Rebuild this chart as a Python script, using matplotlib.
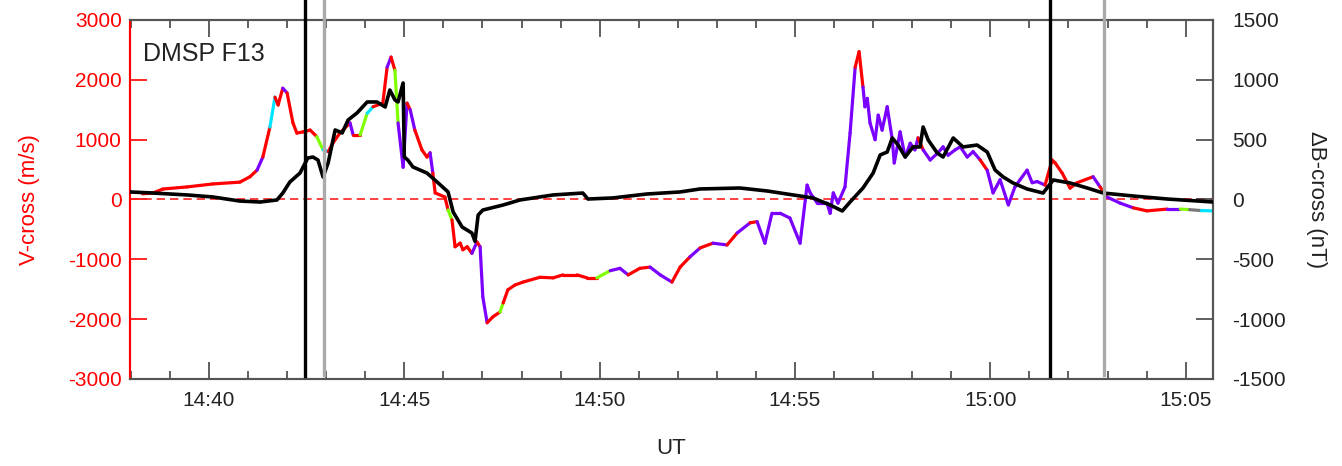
import numpy as np
import matplotlib.pyplot as plt
from matplotlib.ticker import MultipleLocator, FuncFormatter

plt.rcParams['font.family'] = ['Liberation Sans', 'DejaVu Sans']
plt.rcParams['axes.unicode_minus'] = False

# time in minutes after 14:00 UT
v_time = [38.30, 38.57, 38.82, 39.44, 40.10, 40.79, 41.05, 41.23, 41.38, 41.56,
          41.69, 41.77, 41.89, 42.00, 42.15, 42.25, 42.41, 42.59, 42.76, 42.92,
          43.05, 43.17, 43.35, 43.61, 43.69, 43.87, 44.05, 44.20, 44.45, 44.56,
          44.66, 44.76, 44.84, 44.97, 45.07, 45.15, 45.27, 45.45, 45.58, 45.66,
          45.73, 45.79, 46.04, 46.12, 46.22, 46.30, 46.43, 46.50, 46.61, 46.73,
          46.86, 46.94, 47.01, 47.12, 47.27, 47.45, 47.53, 47.65, 47.83, 48.04,
          48.47, 48.81, 49.06, 49.42, 49.68, 49.93, 50.27, 50.52, 50.73, 51.03,
          51.29, 51.55, 51.85, 52.06, 52.31, 52.57, 52.90, 53.26, 53.52, 53.85,
          54.03, 54.23, 54.41, 54.62, 54.87, 55.13, 55.31, 55.39, 55.57, 55.82,
          55.90, 55.98, 56.10, 56.28, 56.41, 56.54, 56.64, 56.74, 56.79, 56.85,
          56.92, 57.05, 57.13, 57.23, 57.36, 57.49, 57.54, 57.69, 57.82, 57.95,
          58.07, 58.15, 58.28, 58.46, 58.66, 58.79, 58.92, 59.10, 59.23, 59.41,
          59.56, 59.74, 59.92, 60.07, 60.25, 60.46, 60.63, 60.76, 60.94, 61.07,
          61.20, 61.40, 61.58, 61.66, 61.84, 62.04, 62.22, 62.63, 62.81, 62.99,
          63.32, 63.66, 64.01, 64.53, 64.86, 65.10, 65.40, 65.70]
v_cross = [95, 110, 175, 210, 260, 290, 380, 490, 710, 1210,
           1710, 1580, 1860, 1780, 1280, 1110, 1130, 1160, 1050, 830,
           800, 940, 1110, 1280, 1080, 1080, 1440, 1550, 1610, 2210,
           2380, 2160, 1280, 540, 1610, 1500, 1160, 830, 710, 780,
           440, 110, 40, -175, -340, -790, -730, -840, -790, -900,
           -710, -790, -1630, -2060, -1960, -1880, -1730, -1510, -1430, -1380,
           -1300, -1310, -1260, -1260, -1310, -1310, -1190, -1150, -1260, -1150,
           -1130, -1260, -1380, -1130, -960, -810, -730, -760, -560, -390,
           -370, -730, -230, -230, -310, -730, 240, 110, -60, -60,
           -230, 110, -60, 210, 1110, 2210, 2470, 1880, 1550, 1690,
           1280, 1000, 1410, 1160, 1550, 1000, 610, 1130, 710, 940,
           830, 1030, 830, 660, 780, 880, 740, 830, 880, 710,
           800, 660, 490, 110, 330, -90, 210, 330, 490, 280,
           300, 240, 660, 610, 440, 190, 280, 380, 210, 40,
           -60, -140, -190, -160, -160, -170, -185, -190]
# flow regime of each V-cross sample
v_flag = ['r', 'r', 'r', 'r', 'r', 'r', 'r', 'p', 'r', 'c',
          'r', 'r', 'p', 'r', 'r', 'r', 'r', 'r', 'g', 'c',
          'r', 'r', 'r', 'p', 'r', 'g', 'c', 'r', 'r', 'p',
          'r', 'g', 'p', 'p', 'r', 'p', 'r', 'r', 'r', 'p',
          'r', 'r', 'r', 'g', 'r', 'r', 'r', 'r', 'r', 'p',
          'r', 'p', 'p', 'r', 'r', 'g', 'r', 'r', 'r', 'r',
          'r', 'r', 'r', 'r', 'r', 'g', 'p', 'p', 'r', 'r',
          'p', 'p', 'r', 'r', 'p', 'r', 'p', 'r', 'p', 'r',
          'p', 'p', 'p', 'p', 'p', 'p', 'p', 'p', 'p', 'p',
          'p', 'p', 'p', 'p', 'p', 'r', 'r', 'p', 'p', 'p',
          'p', 'p', 'p', 'p', 'p', 'p', 'p', 'p', 'p', 'p',
          'p', 'r', 'p', 'p', 'p', 'p', 'p', 'p', 'p', 'p',
          'p', 'r', 'p', 'p', 'p', 'p', 'p', 'p', 'p', 'p',
          'p', 'r', 'r', 'r', 'r', 'r', 'r', 'p', 'r', 'p',
          'p', 'r', 'r', 'p', 'g', 'k', 'c', 'c']

b_time = [37.98, 38.57, 39.44, 40.10, 40.79, 41.31, 41.74, 41.89, 42.07, 42.33,
          42.53, 42.66, 42.79, 42.92, 43.05, 43.23, 43.41, 43.56, 43.79, 44.05,
          44.30, 44.51, 44.63, 44.76, 44.84, 44.97, 45.00, 45.09, 45.22, 45.58,
          45.84, 46.12, 46.25, 46.48, 46.73, 46.81, 46.89, 47.01, 47.53, 47.96,
          48.81, 49.57, 49.70, 50.34, 51.21, 52.06, 52.57, 53.59, 54.29, 54.95,
          55.46, 55.90, 56.21, 56.41, 56.74, 57.00, 57.18, 57.36, 57.49, 57.64,
          57.82, 58.02, 58.20, 58.28, 58.41, 58.64, 58.79, 59.05, 59.30, 59.66,
          59.92, 60.12, 60.33, 60.58, 60.94, 61.35, 61.61, 62.04, 62.48, 62.89,
          63.66, 64.53, 65.70]
b_cross = [63, 54, 38, 21, -13, -21, -4, 54, 146, 221,
           347, 355, 330, 188, 305, 581, 556, 664, 723, 815,
           815, 773, 915, 832, 815, 974, 355, 330, 272, 221,
           146, 63, -104, -230, -280, -350, -130, -88, -46, -4,
           38, 54, 4, 13, 46, 63, 88, 96, 71, 38,
           13, -46, -96, -21, 96, 221, 372, 397, 514, 455,
           355, 439, 439, 606, 497, 389, 355, 514, 439, 455,
           397, 247, 188, 138, 88, 54, 163, 138, 96, 54,
           29, 4, -21]

# boundary markers (minutes after 14:00)
black_marks = [42.46, 61.53]
gray_marks = [42.94, 62.92]

flag_colors = {'r': '#ff0000', 'p': '#7a00ff', 'c': '#00e5ff',
               'g': '#80ff00', 'k': '#777777'}

fig = plt.figure(figsize=(13.42, 4.66), dpi=100)
ax = fig.add_axes([0.0969, 0.1867, 0.8070, 0.7704])
ax2 = ax.twinx()

# coloured V-cross trace, segment by segment
for i in range(len(v_time) - 1):
    ax.plot(v_time[i:i + 2], v_cross[i:i + 2], color=flag_colors[v_flag[i]],
            lw=2.3, solid_capstyle='round', zorder=3)
ax.axhline(0, color='#ff2020', ls=(0, (5, 3)), lw=1.2, zorder=2)

ax2.plot(b_time, b_cross, color='black', lw=2.6, zorder=4)

for t in black_marks:
    ax2.axvline(t, ymin=0.008, ymax=1.056, color='black', lw=2.4,
                clip_on=False, zorder=5)
for t in gray_marks:
    ax2.axvline(t, ymin=0.012, ymax=1.056, color='#aaaaaa', lw=2.4,
                clip_on=False, zorder=5)

ax.set_xlim(37.98, 65.70)
ax.set_ylim(-3000, 3000)
ax2.set_ylim(-1500, 1500)

ax.xaxis.set_major_locator(MultipleLocator(5))
ax.xaxis.set_minor_locator(MultipleLocator(1))
ax.xaxis.set_major_formatter(FuncFormatter(lambda m, p: '%d:%02d' % (14 + int(m) // 60, int(m) % 60)))
ax.yaxis.set_major_locator(MultipleLocator(1000))
ax2.yaxis.set_major_locator(MultipleLocator(500))

ax.tick_params(axis='x', which='major', direction='in', length=12, width=1.2,
               top=True, labelsize=15, colors='#444444', labelcolor='#222222', pad=9)
ax.tick_params(axis='x', which='minor', direction='in', length=6, width=1.2,
               top=True, colors='#444444')
ax.tick_params(axis='y', direction='in', length=12, width=1.2, colors='red',
               labelsize=15, pad=6)
ax2.tick_params(axis='y', direction='in', length=12, width=1.2, colors='#444444',
                labelcolor='#222222', labelsize=15, pad=14)

for s in ['top', 'bottom']:
    ax.spines[s].set_color('#555555')
    ax2.spines[s].set_color('#555555')
ax.spines['left'].set_color('red')
ax2.spines['left'].set_color('red')
ax2.spines['right'].set_color('#555555')
for s in ['top', 'bottom', 'right', 'left']:
    ax.spines[s].set_linewidth(1.5)
    ax2.spines[s].set_linewidth(1.5)

ax.set_ylabel('V-cross (m/s)', color='red', fontsize=16, labelpad=20)
ax2.set_ylabel('ΔB-cross (nT)', color='#222222', fontsize=16, rotation=270,
               labelpad=29)
ax.set_xlabel('UT', fontsize=16, color='#222222', labelpad=20)

ax.text(0.012, 0.94, 'DMSP F13', transform=ax.transAxes, fontsize=18,
        color='#222222', va='top', ha='left')

fig.savefig('out.png', dpi=100)
